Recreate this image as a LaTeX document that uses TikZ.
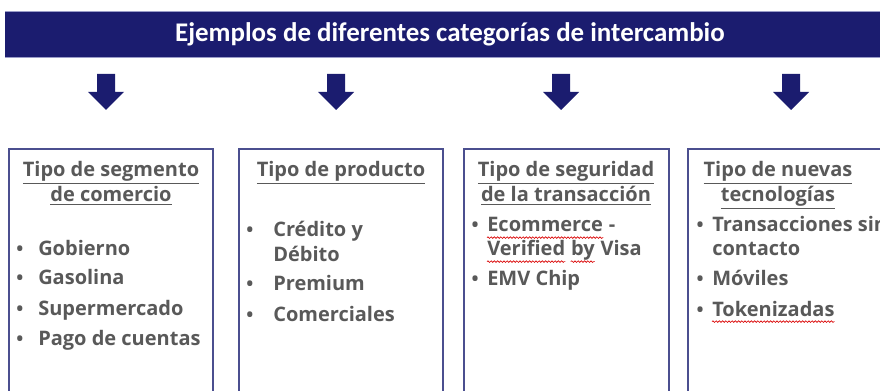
\documentclass[tikz,border=0pt]{standalone}
\usepackage{fontspec}
\setmainfont{Open Sans}
\newfontfamily\titlefont{Carlito}
\usetikzlibrary{decorations.pathmorphing}
\definecolor{navy}{HTML}{1B1C6F}
\definecolor{txt}{HTML}{595959}
\definecolor{boxline}{HTML}{4B4F8F}
\definecolor{barline}{HTML}{9A9CC8}
\tikzset{
  panel/.style={draw=boxline, line width=0.9pt},
  head/.style={font=\bfseries\fontsize{15}{18.75}\selectfont, text=txt, anchor=base, inner sep=0pt},
  item/.style={font=\bfseries\fontsize{15}{18.75}\selectfont, text=txt, anchor=base west, inner sep=0pt},
  dot/.style={font=\bfseries\fontsize{14}{15}\selectfont, text=txt, anchor=base, inner sep=0pt},
  downarrow/.style={fill=navy},
  wavy/.style={draw=red!85!black, line width=0.5pt, decorate, decoration={snake, amplitude=0.6pt, segment length=2.4pt}}
}
\begin{document}
\begin{tikzpicture}[x=0.75pt,y=-0.75pt]
\useasboundingbox (0,0) rectangle (880,391);
\clip (0,0) rectangle (880,391);
% title bar
\fill[navy] (5,11) rectangle (890,57);
\draw[barline, line width=0.6pt] (5,11) -- (890,11);
\draw[barline, line width=0.6pt] (5,57) -- (890,57);
\node[font=\titlefont\bfseries\fontsize{20.2}{24}\selectfont, text=white] (title) at (450,34) {Ejemplos de diferentes categorías de intercambio};
% arrows
\foreach \cx/\n in {106/a1,336/a2,561/a3,791/a4}{
  \fill[downarrow] (\cx-9,74) -- (\cx+9,74) -- (\cx+9,92) -- (\cx+18,92) -- (\cx,110) -- (\cx-18,92) -- (\cx-9,92) -- cycle;
}
% panels
\draw[panel] (9,149) rectangle (213,400);
\draw[panel] (239,149) rectangle (443,400);
\draw[panel] (464,149) rectangle (669,400);
\draw[panel] (688,149) rectangle (900,400);
% panel 1
\node[head] (h1a) at (111,177) {\underline{Tipo de segmento}};
\node[head] (h1b) at (111,202) {\underline{de comercio}};
\node[dot] (d11) at (20,256) {•};
\node[item] (t11) at (38,256) {Gobierno};
\node[dot] (d12) at (20,285) {•};
\node[item] (t12) at (38,285) {Gasolina};
\node[dot] (d13) at (20,315) {•};
\node[item] (t13) at (38,315) {Supermercado};
\node[dot] (d14) at (20,345) {•};
\node[item] (t14) at (38,345) {Pago de cuentas};
% panel 2
\node[head] (h2) at (341,177) {\underline{Tipo de producto}};
\node[dot] (d21) at (250,237) {•};
\node[item] (t21) at (273,237) {Crédito y};
\node[item] (t22) at (273,262) {Débito};
\node[dot] (d23) at (250,291) {•};
\node[item] (t23) at (273,291) {Premium};
\node[dot] (d24) at (250,321) {•};
\node[item] (t24) at (273,321) {Comerciales};
% panel 3
\node[head] (h3a) at (566,177) {\underline{Tipo de seguridad}};
\node[head] (h3b) at (566,202) {\underline{de la transacción}};
\node[dot] (d31) at (475,232) {•};
\node[item] (t31) at (487,232) {Ecommerce};
\node[item, anchor=base west] (t31b) at ([xshift=4pt]t31.base east) {-};
\node[item] (t32) at (487,256) {Verified};
\node[item, anchor=base west] (t32b) at ([xshift=4pt]t32.base east) {by};
\node[item, anchor=base west] (t32c) at ([xshift=4pt]t32b.base east) {Visa};
\node[dot] (d33) at (475,286) {•};
\node[item] (t33) at (487,286) {EMV Chip};
\draw[wavy] ([yshift=-4.2pt]t31.base west) -- ([yshift=-4.2pt]t31.base east);
\draw[wavy] ([yshift=-4.2pt]t32.base west) -- ([yshift=-4.2pt]t32.base east);
\draw[wavy] ([yshift=-4.2pt]t32b.base west) -- ([yshift=-4.2pt]t32b.base east);
% panel 4
\node[head] (h4a) at (778,177) {\underline{Tipo de nuevas}};
\node[head] (h4b) at (778,202) {\underline{tecnologías}};
\node[dot] (d41) at (700,232) {•};
\node[item] (t41) at (712,232) {Transacciones sin};
\node[item] (t42) at (712,256) {contacto};
\node[dot] (d43) at (700,286) {•};
\node[item] (t43) at (712,286) {Móviles};
\node[dot] (d44) at (700,316) {•};
\node[item] (t44) at (712,316) {Tokenizadas};
\draw[wavy] ([yshift=-4.2pt]t44.base west) -- ([yshift=-4.2pt]t44.base east);
\end{tikzpicture}
\end{document}
